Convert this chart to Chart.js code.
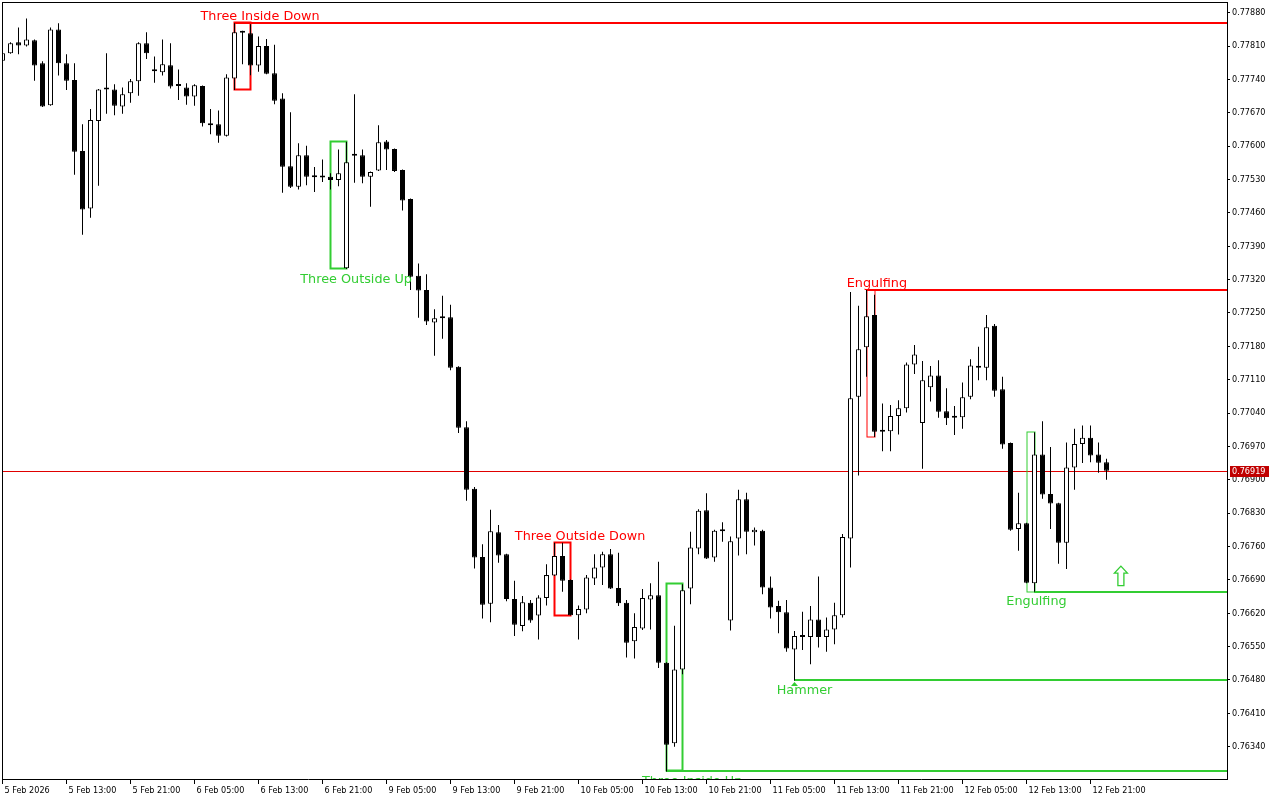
<!DOCTYPE html>
<html><head><meta charset="utf-8">
<script src="https://cdn.jsdelivr.net/npm/chart.js@4.4.1/dist/chart.umd.min.js"></script>
<style>html,body{margin:0;padding:0;background:#fff;overflow:hidden}canvas{display:block}</style>
</head><body>
<canvas id="c" width="1280" height="800"></canvas>
<script>
// ---- data (hourly candles, 5 Feb 05:00 .. 12 Feb 23:00) ----
const opens = [
0.77779,0.77795,0.77818,0.77811,0.77822,0.77774,0.77686,0.77845,0.77774,0.77739,
0.77590,0.77469,0.77653,0.77719,0.77719,0.77683,0.77711,0.77736,0.77816,0.77760,
0.77755,0.77770,0.77728,0.77723,0.77704,0.77726,0.77646,0.77646,0.77622,0.77742,
0.77838,0.77837,0.77769,0.77810,0.77753,0.77700,0.77558,0.77515,0.77581,0.77537,
0.77534,0.77536,0.77529,0.77344,0.77580,0.77581,0.77536,0.77549,0.77610,0.77594,
0.77550,0.77489,0.77328,0.77298,0.77230,0.77241,0.77241,0.77137,0.77010,0.76881,
0.76738,0.76640,0.76790,0.76744,0.76650,0.76593,0.76642,0.76615,0.76652,0.76699,
0.76740,0.76690,0.76616,0.76628,0.76693,0.76716,0.76744,0.76673,0.76642,0.76561,
0.76588,0.76649,0.76658,0.76516,0.76347,0.76502,0.76672,0.76756,0.76836,0.76737,
0.76792,0.76605,0.76777,0.76859,0.76790,0.76793,0.76674,0.76635,0.76622,0.76544,
0.76570,0.76570,0.76607,0.76570,0.76586,0.76616,0.76777,0.77074,0.77178,0.77246,
0.77003,0.77002,0.77034,0.77050,0.77142,0.77019,0.77094,0.77119,0.77044,0.77030,
0.77031,0.77074,0.77137,0.77135,0.77223,0.77090,0.76977,0.76797,0.76809,0.76683,
0.76953,0.76870,0.76851,0.76768,0.76926,0.76975,0.76988,0.76953,0.76937];
const highs = [
0.77798,0.77818,0.77849,0.77868,0.77824,0.77778,0.77849,0.77858,0.77793,0.77774,
0.77646,0.77678,0.77720,0.77795,0.77730,0.77723,0.77741,0.77818,0.77839,0.77788,
0.77824,0.77816,0.77761,0.77732,0.77730,0.77727,0.77678,0.77675,0.77751,0.77858,
0.77842,0.77856,0.77830,0.77825,0.77813,0.77711,0.77671,0.77606,0.77601,0.77556,
0.77572,0.77543,0.77593,0.77609,0.77709,0.77593,0.77547,0.77644,0.77613,0.77595,
0.77551,0.77490,0.77354,0.77331,0.77258,0.77286,0.77267,0.77138,0.77023,0.76885,
0.76765,0.76837,0.76805,0.76745,0.76688,0.76656,0.76648,0.76658,0.76723,0.76768,
0.76768,0.76691,0.76636,0.76700,0.76744,0.76749,0.76755,0.76747,0.76648,0.76620,
0.76671,0.76683,0.76728,0.76517,0.76594,0.76681,0.76791,0.76838,0.76872,0.76795,
0.76811,0.76781,0.76879,0.76873,0.76800,0.76795,0.76697,0.76646,0.76648,0.76583,
0.76623,0.76635,0.76697,0.76611,0.76642,0.76786,0.77294,0.77265,0.77299,0.77288,
0.77060,0.77057,0.77067,0.77146,0.77183,0.77149,0.77139,0.77151,0.77092,0.77055,
0.77104,0.77153,0.77179,0.77246,0.77227,0.77116,0.76978,0.76873,0.76810,0.77000,
0.77023,0.76969,0.76852,0.76978,0.77007,0.77014,0.77014,0.76978,0.76944];
const lows = [
0.77777,0.77794,0.77793,0.77809,0.77737,0.77682,0.77685,0.77748,0.77718,0.77540,
0.77414,0.77450,0.77517,0.77668,0.77665,0.77668,0.77691,0.77706,0.77783,0.77733,
0.77748,0.77721,0.77697,0.77687,0.77685,0.77641,0.77625,0.77607,0.77620,0.77718,
0.77772,0.77749,0.77756,0.77751,0.77688,0.77502,0.77512,0.77509,0.77518,0.77504,
0.77525,0.77509,0.77516,0.77342,0.77523,0.77522,0.77473,0.77548,0.77550,0.77546,
0.77465,0.77298,0.77240,0.77225,0.77160,0.77196,0.77130,0.76998,0.76856,0.76714,
0.76609,0.76601,0.76726,0.76645,0.76572,0.76582,0.76600,0.76565,0.76636,0.76698,
0.76665,0.76615,0.76565,0.76620,0.76679,0.76679,0.76671,0.76635,0.76527,0.76525,
0.76585,0.76586,0.76505,0.76288,0.76340,0.76492,0.76639,0.76744,0.76734,0.76728,
0.76770,0.76584,0.76741,0.76744,0.76762,0.76660,0.76609,0.76578,0.76539,0.76479,
0.76543,0.76513,0.76548,0.76539,0.76555,0.76611,0.76716,0.76909,0.77116,0.76990,
0.76960,0.76960,0.76995,0.77041,0.77122,0.76923,0.77064,0.77030,0.77015,0.76994,
0.77007,0.77069,0.77109,0.77109,0.77074,0.76965,0.76793,0.76751,0.76683,0.76665,
0.76860,0.76797,0.76724,0.76713,0.76879,0.76935,0.76937,0.76915,0.76900];
const closes = [
0.77795,0.77816,0.77811,0.77824,0.77769,0.77683,0.77845,0.77774,0.77737,0.77588,
0.77467,0.77655,0.77719,0.77720,0.77685,0.77709,0.77736,0.77816,0.77795,0.77757,
0.77772,0.77725,0.77726,0.77704,0.77728,0.77648,0.77644,0.77622,0.77744,0.77839,
0.77840,0.77769,0.77810,0.77752,0.77695,0.77557,0.77515,0.77581,0.77536,0.77535,
0.77536,0.77529,0.77543,0.77566,0.77582,0.77536,0.77546,0.77608,0.77593,0.77548,
0.77486,0.77326,0.77297,0.77232,0.77239,0.77239,0.77135,0.77009,0.76879,0.76737,
0.76638,0.76792,0.76741,0.76650,0.76596,0.76643,0.76605,0.76653,0.76700,0.76740,
0.76688,0.76616,0.76629,0.76695,0.76716,0.76744,0.76672,0.76641,0.76558,0.76591,
0.76652,0.76658,0.76516,0.76344,0.76502,0.76668,0.76758,0.76835,0.76735,0.76793,
0.76794,0.76771,0.76859,0.76791,0.76795,0.76674,0.76632,0.76622,0.76546,0.76572,
0.76572,0.76607,0.76570,0.76586,0.76616,0.76780,0.77071,0.77174,0.77243,0.77001,
0.77001,0.77034,0.77050,0.77142,0.77163,0.77109,0.77119,0.77043,0.77029,0.77032,
0.77073,0.77140,0.77135,0.77220,0.77087,0.76974,0.76795,0.76809,0.76684,0.76953,
0.76869,0.76850,0.76768,0.76926,0.76975,0.76988,0.76951,0.76936,0.76919];

const xTickIndex = [0,8,16,24,32,40,48,56,64,72,80,88,96,104,112,120,128,136];
const xTickLabels = ['5 Feb 2026','5 Feb 13:00','5 Feb 21:00','6 Feb 05:00','6 Feb 13:00','6 Feb 21:00',
  '9 Feb 05:00','9 Feb 13:00','9 Feb 21:00','10 Feb 05:00','10 Feb 13:00','10 Feb 21:00',
  '11 Feb 05:00','11 Feb 13:00','11 Feb 21:00','12 Feb 05:00','12 Feb 13:00','12 Feb 21:00'];
const yTickValues = [0.7788,0.7781,0.7774,0.7767,0.7760,0.7753,0.7746,0.7739,0.7732,0.7725,0.7718,0.7711,
  0.7704,0.7697,0.7690,0.7683,0.7676,0.7669,0.7662,0.7655,0.7648,0.7641,0.7634];
const lastPrice = 0.76919;

// candlestick patterns (candle index ranges)
const patterns = [
  {name:'Three Inside Down',  first:29,  last:31,  bull:false, box:2, line:true,  labelAt:32.2},
  {name:'Three Outside Up',   first:41,  last:43,  bull:true,  box:2, line:false, labelAt:44.2},
  {name:'Three Outside Down', first:69,  last:71,  bull:false, box:2, line:false, labelAt:72.2},
  {name:'Three Inside Up',    first:83,  last:85,  bull:true,  box:2, line:true,  labelAt:86.2},
  {name:'Hammer',             first:99,  last:99,  bull:true,  box:0, line:true,  labelAt:100.25},
  {name:'Engulfing',          first:108, last:109, bull:false, box:1, line:true,  labelAt:109.3},
  {name:'Engulfing',          first:128, last:129, bull:true,  box:1, line:true,  labelAt:129.25}
];
const signalArrow = {x:139.8, price:0.76678};

// ---- build ----
const RED = '#FF0000', GREEN = '#32CD32', BID = '#E00000';
const AXIS_FONT = {family:'"DejaVu Sans Condensed", "Liberation Sans", sans-serif', size:9};
const LABEL_FONT = '12.8px "DejaVu Sans", sans-serif';

const wickData = highs.map((h,i)=>({x:i, y:[lows[i], h]}));
const bodyData = opens.map((o,i)=>({x:i, y:[o, closes[i]]}));
const isUp = i => closes[i] > opens[i];

const overlay = {
  id:'overlay',
  beforeDatasetsDraw(chart){
    const {ctx, chartArea:a, scales:{x, y}} = chart;
    ctx.save();
    ctx.beginPath(); ctx.rect(a.left, a.top, a.right-a.left, a.bottom-a.top); ctx.clip();
    // bid line
    const by = Math.round(y.getPixelForValue(lastPrice));
    ctx.fillStyle = BID; ctx.fillRect(a.left, by, a.right-a.left, 1);
    patterns.forEach(p=>{
      const col = p.bull ? GREEN : RED;
      let hi = -Infinity, lo = Infinity, hiI = p.first, loI = p.first;
      for (let i=p.first;i<=p.last;i++){ if (highs[i]>hi){hi=highs[i];hiI=i;} if (lows[i]<lo){lo=lows[i];loI=i;} }
      if (p.box){
        const x0 = x.getPixelForValue(p.first), x1 = x.getPixelForValue(p.last);
        const y0 = y.getPixelForValue(hi), y1 = y.getPixelForValue(lo);
        ctx.strokeStyle = col; ctx.lineWidth = p.box;
        const off = p.box===1 ? 0 : 0.5;
        ctx.strokeRect(Math.round(x0)-off, Math.round(y0)-off, Math.round(x1-x0), Math.round(y1-y0));
      }
      if (p.line){
        const lv = p.bull ? lo : hi, li = p.bull ? loI : hiI;
        const ly = Math.round(y.getPixelForValue(lv));
        const lx = Math.floor(x.getPixelForValue(li));
        ctx.fillStyle = col; ctx.fillRect(lx, ly-1, a.right-lx, 2);
      }
    });
    ctx.restore();
  },
  afterDatasetsDraw(chart){
    const {ctx, chartArea:a, scales:{x, y}} = chart;
    ctx.save();
    ctx.beginPath(); ctx.rect(a.left, a.top, a.right-a.left, a.bottom-a.top); ctx.clip();
    ctx.font = LABEL_FONT; ctx.textAlign = 'center'; ctx.textBaseline = 'alphabetic';
    patterns.forEach(p=>{
      let hi = -Infinity, lo = Infinity;
      for (let i=p.first;i<=p.last;i++){ hi=Math.max(hi,highs[i]); lo=Math.min(lo,lows[i]); }
      const tx = x.getPixelForValue(p.labelAt);
      if (p.bull){
        const yl = y.getPixelForValue(lo);
        ctx.fillStyle = GREEN; ctx.fillText(p.name, tx, yl+13.5);
        if (!p.box){ // hammer marker
          const cx = x.getPixelForValue(p.first);
          ctx.beginPath(); ctx.moveTo(cx, yl+1.5); ctx.lineTo(cx+3.5, yl+5.5); ctx.lineTo(cx-3.5, yl+5.5); ctx.closePath(); ctx.fill();
        }
      } else {
        const yh = y.getPixelForValue(hi);
        ctx.fillStyle = RED; ctx.fillText(p.name, tx, yh-3);
      }
    });
    // buy signal arrow
    const cx = x.getPixelForValue(signalArrow.x), bY = y.getPixelForValue(signalArrow.price);
    ctx.beginPath();
    ctx.moveTo(cx-3, bY); ctx.lineTo(cx-3, bY-12.5); ctx.lineTo(cx-6.5, bY-12.5); ctx.lineTo(cx, bY-19.5);
    ctx.lineTo(cx+6.5, bY-12.5); ctx.lineTo(cx+3, bY-12.5); ctx.lineTo(cx+3, bY); ctx.closePath();
    ctx.fillStyle = '#fff'; ctx.fill(); ctx.strokeStyle = GREEN; ctx.lineWidth = 1.3; ctx.stroke();
    ctx.restore();
  },
  afterDraw(chart){
    const {ctx, chartArea:a, scales:{y}} = chart;
    ctx.save();
    ctx.fillStyle = '#000';
    ctx.fillRect(Math.floor(a.left), Math.floor(a.top), 1, Math.ceil(a.bottom-a.top)+1);
    ctx.fillRect(Math.floor(a.left), Math.floor(a.top), Math.ceil(a.right-a.left)+1, 1);
    // last price tag
    const py = Math.round(y.getPixelForValue(lastPrice));
    ctx.fillStyle = '#C00000';
    ctx.fillRect(Math.round(a.right)+3, py-5, 39, 11);
    ctx.fillStyle = '#fff'; ctx.font = '9px ' + AXIS_FONT.family; ctx.textBaseline = 'middle'; ctx.textAlign = 'left';
    ctx.fillText(lastPrice.toFixed(5), Math.round(a.right)+5, py+0.5);
    ctx.restore();
  }
};

new Chart(document.getElementById('c'), {
  type:'bar',
  data:{datasets:[
    {label:'wick', data:wickData, order:2, grouped:false, backgroundColor:'#000', borderWidth:0,
     maxBarThickness:1, barPercentage:1, categoryPercentage:1, inflateAmount:0},
    {label:'body', data:bodyData, order:1, grouped:false,
     backgroundColor: c => isUp(c.dataIndex) ? '#FFFFFF' : '#000000',
     borderColor:'#000', borderWidth:1, borderSkipped:false, minBarLength:2,
     maxBarThickness:5, barPercentage:1, categoryPercentage:1, inflateAmount:0}
  ]},
  options:{
    responsive:false, animation:false, devicePixelRatio:1,
    layout:{padding:{left:2, top:2, right:0, bottom:0}},
    plugins:{legend:{display:false}, tooltip:{enabled:false}},
    scales:{
      x:{type:'linear', position:'bottom', min:-0.0625, max:153.0625, offset:false,
        afterBuildTicks: s => { s.ticks = xTickIndex.map(v=>({value:v})); },
        afterFit: s => { s.height = 21; s.paddingLeft = 0; s.paddingRight = 0; },
        grid:{display:true, drawOnChartArea:false, drawTicks:true, tickLength:5, color:'#000', offset:false},
        border:{display:true, color:'#000', width:1},
        ticks:{autoSkip:false, maxRotation:0, minRotation:0, align:'start', labelOffset:2, padding:1,
          color:'#000', font:AXIS_FONT,
          callback: v => { const k = xTickIndex.indexOf(v); return k>=0 ? xTickLabels[k] : ''; }}
      },
      y:{type:'linear', position:'right', min:0.7627222, max:0.7790245, beginAtZero:false,
        afterBuildTicks: s => { s.ticks = yTickValues.map(v=>({value:v})); },
        afterFit: s => { s.width = 53; s.paddingTop = 0; s.paddingBottom = 0; },
        grid:{display:true, drawOnChartArea:false, drawTicks:true, tickLength:3, color:'#000'},
        border:{display:true, color:'#000', width:1},
        ticks:{padding:2, color:'#000', font:AXIS_FONT, callback: v => Number(v).toFixed(5)}
      }
    }
  },
  plugins:[overlay]
});
</script>
</body></html>
